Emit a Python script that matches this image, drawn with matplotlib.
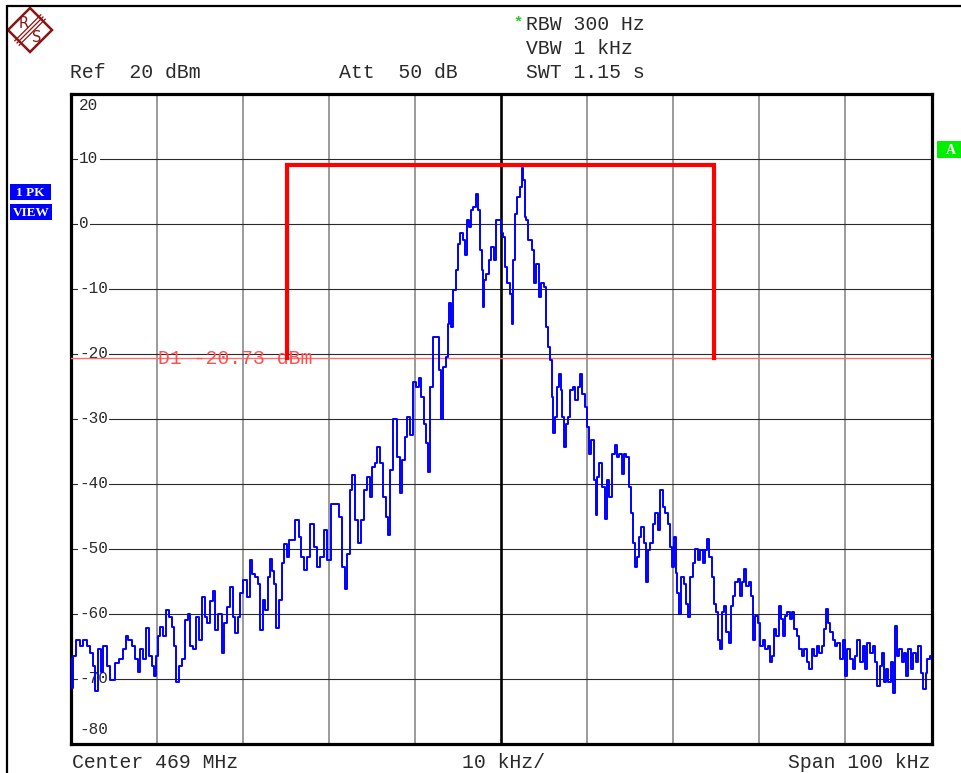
import matplotlib
matplotlib.use('Agg')
import matplotlib.pyplot as plt
from matplotlib.patches import Rectangle, Polygon
import matplotlib.transforms as mtransforms

# ---------------- data ----------------
freq_khz = [
    -50.0, -49.85, -49.65, -49.07, -48.69, -48.30, -47.91, -47.53, -47.33, -46.95,
    -46.56, -46.37, -45.98, -45.59, -45.13, -44.63, -44.05, -43.67, -43.48, -43.08,
    -42.69, -42.31, -42.11, -41.73, -41.34, -41.03, -40.76, -40.37, -40.18, -39.99,
    -39.71, -39.41, -39.02, -38.71, -38.43, -38.05, -37.86, -37.55, -37.28, -36.89,
    -36.51, -36.23, -35.93, -35.54, -35.23, -34.95, -34.57, -34.30, -33.99, -33.53,
    -33.29, -33.03, -32.64, -32.25, -31.98, -31.67, -31.29, -31.01, -30.70, -30.43,
    -30.13, -29.74, -29.35, -29.04, -28.77, -28.38, -28.11, -27.81, -27.49, -27.23,
    -26.95, -26.72, -26.45, -26.25, -25.99, -25.67, -25.29, -25.02, -24.79,
    -24.48, -24.09, -23.70, -23.32, -23.05, -22.74, -22.35, -21.96, -21.58, -21.19,
    -20.80, -20.42, -19.95, -19.64, -19.06, -18.68, -18.29, -17.98, -17.71, -17.40,
    -17.13, -16.74, -16.47, -16.09, -15.78, -15.39, -15.08, -14.81, -14.54, -14.23,
    -13.84, -13.53, -13.26, -12.99, -12.68, -12.30, -11.91, -11.60, -11.33, -11.06,
    -10.67, -10.36, -10.06, -9.66, -9.40, -9.13, -8.82, -8.50, -8.35, -8.04,
    -7.74, -7.35, -7.16, -6.88, -6.58, -6.30, -6.11, -5.92, -5.65, -5.42,
    -5.14, -4.87, -4.56, -4.29, -4.10, -3.86, -3.60, -3.33, -3.10, -2.82,
    -2.55, -2.32, -2.17, -2.05, -1.86, -1.54, -1.28, -1.01, -0.70, -0.38,
    -0.12, 0.08,
    0.27, 0.58, 0.85, 1.13, 1.36, 1.51, 1.74, 2.01, 2.29, 2.52,
    2.67, 2.82, 3.05, 3.29, 3.56, 3.75, 3.94, 4.21, 4.52, 4.84,
    5.10, 5.30, 5.60, 5.77, 6.00, 6.15, 6.38, 6.65, 6.84, 7.04,
    7.23, 7.42, 7.62, 7.92, 8.20, 8.47, 8.78, 9.08, 9.28, 9.55,
    9.86, 10.13, 10.32, 10.64, 10.90, 11.10, 11.29, 11.57, 11.87, 12.18,
    12.45, 12.73, 13.03, 13.34, 13.61, 13.89, 14.12, 14.39, 14.66, 14.97,
    15.28, 15.43, 15.66, 15.93, 16.13, 16.44, 16.71, 16.90, 17.20, 17.48,
    17.75, 18.06, 18.36, 18.64, 18.91, 19.22, 19.52, 19.80, 19.99, 20.19,
    20.38, 20.57, 20.77, 21.08, 21.35, 21.61, 21.85, 22.12, 22.39, 22.70,
    23.00, 23.28, 23.55, 23.86, 24.05, 24.33, 24.63, 24.83,
    25.02, 25.29, 25.52, 25.79, 26.07, 26.30, 26.57, 26.83, 27.07, 27.34,
    27.61, 27.84, 28.11, 28.38, 28.62, 28.89, 29.15, 29.39, 29.66, 29.93,
    30.24, 30.55, 30.82, 31.09, 31.40, 31.59, 31.87, 32.10, 32.37, 32.56,
    32.87, 33.14, 33.41, 33.72, 33.91, 34.19, 34.49, 34.80, 35.07, 35.35,
    35.65, 35.96, 36.23, 36.51, 36.81, 37.12, 37.39, 37.67, 37.90, 38.05,
    38.36, 38.67, 38.94, 39.21, 39.52, 39.83, 40.10, 40.37, 40.68, 40.99,
    41.26, 41.53, 41.84, 42.15, 42.42, 42.69, 43.00, 43.31, 43.58, 43.85,
    44.08, 44.35, 44.63, 44.86, 45.13, 45.39, 45.63, 45.90, 46.09, 46.40,
    46.67, 46.95, 47.18, 47.45, 47.72, 48.03, 48.34, 48.61, 48.88, 49.19,
    49.42, 49.65, 50.0,
]
level_dbm = [
    -67.0, -71.5, -66.5, -64.0, -65.0, -64.0, -65.0, -66.0, -68.0, -71.9,
    -65.5, -69.0, -65.0, -68.0, -70.3, -67.6, -67.0, -65.5, -63.5, -64.0,
    -65.0, -67.0, -69.0, -65.5, -67.0, -62.2, -66.5, -68.0, -69.6, -66.5,
    -63.5, -62.0, -63.5, -59.4, -60.5, -62.0, -65.0, -70.6, -68.0, -67.0,
    -61.0, -60.0, -65.0, -65.5, -60.5, -64.0, -57.4, -60.5, -61.5, -58.0,
    -56.6, -62.5, -60.0, -66.0, -61.5, -59.0, -55.9, -60.5, -63.0, -60.5,
    -56.9, -54.9, -57.4, -51.8, -53.9, -54.4, -55.4, -62.5, -57.9, -59.4,
    -54.4, -51.6, -53.4, -55.4, -62.2, -57.9, -52.3, -49.3, -51.3,
    -48.7, -48.7, -45.6, -48.2, -51.3, -53.3, -51.3, -46.2, -49.7, -52.8,
    -51.3, -47.2, -51.8, -43.1, -43.1, -45.1, -52.8, -56.2, -50.8, -41.0,
    -38.7, -45.6, -49.2, -45.6, -41.0, -39.0, -42.0, -37.4, -36.9, -34.4,
    -36.9, -42.0, -45.1, -47.9, -37.9, -30.0, -35.9, -41.5, -36.4, -32.8,
    -29.7, -32.6, -24.4, -25.1, -23.8, -26.7, -30.8, -33.8, -38.2, -25.1,
    -17.4, -17.4, -22.6, -30.0, -22.0, -20.5, -15.4, -12.3, -15.9, -10.3,
    -7.2, -3.1, -1.5, -2.6, -4.9, 0.5, -0.5, 2.1, 2.6, 4.6,
    2.1, -4.1, -7.2, -12.8, -8.7, -7.7, -5.6, -3.6, -5.6, 0.5,
    0.5, -1.5,
    -2.0, -6.7, -9.2, -10.8, -15.4, -5.6, 1.5, 4.1, 5.6, 8.5,
    6.7, 1.0, 0.5, -2.6, -2.6, -4.1, -9.2, -6.2, -11.3, -9.2,
    -9.7, -15.9, -19.0, -21.0, -26.7, -32.3, -29.7, -25.1, -23.1, -25.6,
    -29.7, -34.4, -30.8, -29.7, -25.6, -25.1, -27.2, -25.1, -23.1, -26.2,
    -28.2, -31.3, -35.4, -33.3, -39.5, -44.9, -39.0, -36.9, -40.5, -45.4,
    -39.5, -42.0, -35.4, -34.1, -35.9, -35.4, -38.5, -35.4, -35.9, -40.5,
    -44.6, -49.2, -52.8, -51.3, -48.2, -46.7, -49.2, -55.1, -50.3, -49.2,
    -46.2, -44.6, -47.2, -41.0, -43.6, -44.6, -46.2, -49.7, -52.8, -48.2,
    -53.8, -56.9, -60.0, -54.4, -55.4, -58.5, -60.5, -54.4, -52.3, -50.0,
    -51.8, -50.3, -52.3, -50.3, -48.5, -51.3, -54.4, -58.5,
    -59.8, -64.0, -65.5, -59.8, -58.8, -62.9, -64.5, -58.8, -57.3, -55.2,
    -54.7, -57.3, -55.2, -53.2, -55.7, -55.2, -57.3, -64.0, -60.4, -61.4,
    -65.0, -64.0, -65.5, -65.0, -67.5, -66.5, -62.4, -63.4, -58.8, -60.9,
    -63.4, -60.4, -59.8, -60.9, -59.8, -62.4, -63.4, -65.5, -66.5, -65.5,
    -67.5, -68.6, -65.5, -66.5, -65.0, -66.0, -65.0, -62.4, -59.3, -61.4,
    -62.9, -64.0, -65.0, -64.5, -67.0, -64.0, -69.6, -65.5, -67.0, -68.6,
    -66.5, -64.0, -67.5, -65.0, -68.6, -64.5, -66.0, -65.0, -67.5, -71.1,
    -68.0, -66.0, -70.6, -68.6, -70.6, -67.5, -72.2, -61.9, -66.5, -65.5,
    -67.5, -66.0, -69.6, -65.5, -68.6, -66.0, -67.5, -65.0, -69.1, -71.6,
    -69.1, -67.0, -66.5,
]

grid_x_khz = [-40, -30, -20, -10, 10, 20, 30, 40]
grid_y_dbm = [10, 0, -10, -20, -30, -40, -50, -60, -70]
y_labels = ["20", "10", "0", "-10", "-20", "-30", "-40", "-50", "-60", "-70", "-80"]
y_label_vals = [20, 10, 0, -10, -20, -30, -40, -50, -60, -70, -80]

limit_f = [-24.8, -24.8, 24.7, 24.7]
limit_l = [-20.73, 9.0, 9.0, -20.73]
d1_level = -20.73
d1_text = "D1 -20.73 dBm"

header_left = ["Ref  20 dBm", "Att  50 dB"]
header_right = ["RBW 300 Hz", "VBW 1 kHz", "SWT 1.15 s"]
footer = ["Center 469 MHz", "10 kHz/", "Span 100 kHz"]

# ---------------- figure ----------------
W, H = 961, 773
fig = plt.figure(figsize=(W / 100, H / 100), dpi=100)
fig.patch.set_facecolor('white')
mono = 'Liberation Mono'
txtc = '#2a2a2a'

# overlay in pixel coordinates
ov = fig.add_axes([0, 0, 1, 1], zorder=0)
ov.set_xlim(0, W)
ov.set_ylim(H, 0)
ov.axis('off')

# page border
ov.plot([7, 7], [5, H], color='black', lw=1.6, solid_capstyle='butt')
ov.plot([7, W], [5.5, 5.5], color='black', lw=1.6, solid_capstyle='butt')

# R&S logo
lc = '#8c1414'
cx, cy, r = 30, 30, 22
ov.add_patch(Polygon([[cx, cy - r], [cx + r, cy], [cx, cy + r], [cx - r, cy]],
                     closed=True, fill=False, edgecolor=lc, lw=1.8))
for d in (-2.2, 0, 2.2):
    ov.plot([cx + 13 + d, cx - 13 + d], [cy - 13 + d, cy + 13 + d], color=lc, lw=0.9)
ov.text(cx - 6.5, cy - 6.5, 'R', color=lc, fontsize=10.5, family='DejaVu Sans',
        ha='center', va='center')
ov.text(cx + 6.5, cy + 7, 'S', color=lc, fontsize=10.5, family='DejaVu Sans',
        ha='center', va='center')

# header texts
hfs = 14.2
ov.text(70, 73, header_left[0], family=mono, fontsize=hfs, color=txtc, va='center', ha='left')
ov.text(339, 73, header_left[1], family=mono, fontsize=hfs, color=txtc, va='center', ha='left')
for i, s in enumerate(header_right):
    ov.text(526, 25 + 24 * i, s, family=mono, fontsize=hfs, color=txtc, va='center', ha='left')
ov.text(518, 22, '*', family=mono, fontsize=11, color='#22cc22', va='center', ha='center',
        fontweight='bold')

# footer texts
ov.text(72, 762, footer[0], family=mono, fontsize=hfs, color=txtc, va='center', ha='left')
ov.text(504, 762, footer[1], family=mono, fontsize=hfs, color=txtc, va='center', ha='center')
ov.text(930, 762, footer[2], family=mono, fontsize=hfs, color=txtc, va='center', ha='right')

# side boxes
for (x0, y0, w, h, s) in [(10, 184, 41, 16, '1 PK'), (10, 204, 42, 16, 'VIEW')]:
    ov.add_patch(Rectangle((x0, y0), w, h, color='#0000ff', lw=0))
    ov.text(x0 + w / 2, y0 + h / 2 + 0.5, s, family='Liberation Serif', fontsize=9.5,
            fontweight='bold', color='white', ha='center', va='center')
ov.add_patch(Rectangle((937, 141), 24, 17, color='#00ee00', lw=0))
ov.text(951, 150, 'A', family='Liberation Serif', fontsize=10, fontweight='bold',
        color='white', ha='center', va='center')

# ---------------- main axes ----------------
L, R, T, B = 70.5, 931.5, 93.5, 743.5
ax = fig.add_axes([L / W, 1 - B / H, (R - L) / W, (B - T) / H], zorder=1)
ax.set_facecolor('white')
ax.set_xlim(-50, 50)
ax.set_ylim(-80, 20)
ax.set_xticks([])
ax.set_yticks([])
for sp in ax.spines.values():
    sp.set_linewidth(2.3)
    sp.set_color('black')

for gx in grid_x_khz:
    ax.axvline(gx, color='#8a8a8a', lw=1.2, zorder=1)
for gy in grid_y_dbm:
    ax.axhline(gy, color='#2a2a2a', lw=0.8, zorder=1)
ax.axvline(0, color='black', lw=1.9, zorder=2)

# y labels
lab_x = (79 - L) / (R - L)
trans = mtransforms.blended_transform_factory(ax.transAxes, ax.transData)
lfs = 11.5
for s, v in zip(y_labels, y_label_vals):
    if v == 20:
        ax.text(lab_x, v, s, transform=trans + mtransforms.ScaledTranslation(0, -5 / 100, fig.dpi_scale_trans),
                family=mono, fontsize=lfs, color=txtc, ha='left', va='top', zorder=3)
    elif v == -80:
        ax.text(lab_x, v, s, transform=trans + mtransforms.ScaledTranslation(0, 6 / 100, fig.dpi_scale_trans),
                family=mono, fontsize=lfs, color=txtc, ha='left', va='bottom', zorder=3)
    else:
        ax.text(lab_x, v, s, transform=trans, family=mono, fontsize=lfs, color=txtc,
                ha='left', va='center', zorder=3,
                bbox=dict(facecolor='white', edgecolor='none', pad=1.0))

# display line D1
ax.axhline(d1_level, color='#ff7070', lw=1.0, zorder=3)
ax.text(-39.8, d1_level, d1_text, family=mono, fontsize=14.2, color='#ff5050',
        ha='left', va='center', zorder=4)

# limit line
ax.plot(limit_f, limit_l, color='#ff0000', lw=3.0, solid_joinstyle='miter', zorder=5)

# trace
ax.plot(freq_khz, level_dbm, color='#0000ff', lw=1.4, drawstyle='steps-mid', zorder=6)

fig.savefig('out.png', dpi=100, facecolor='white')
